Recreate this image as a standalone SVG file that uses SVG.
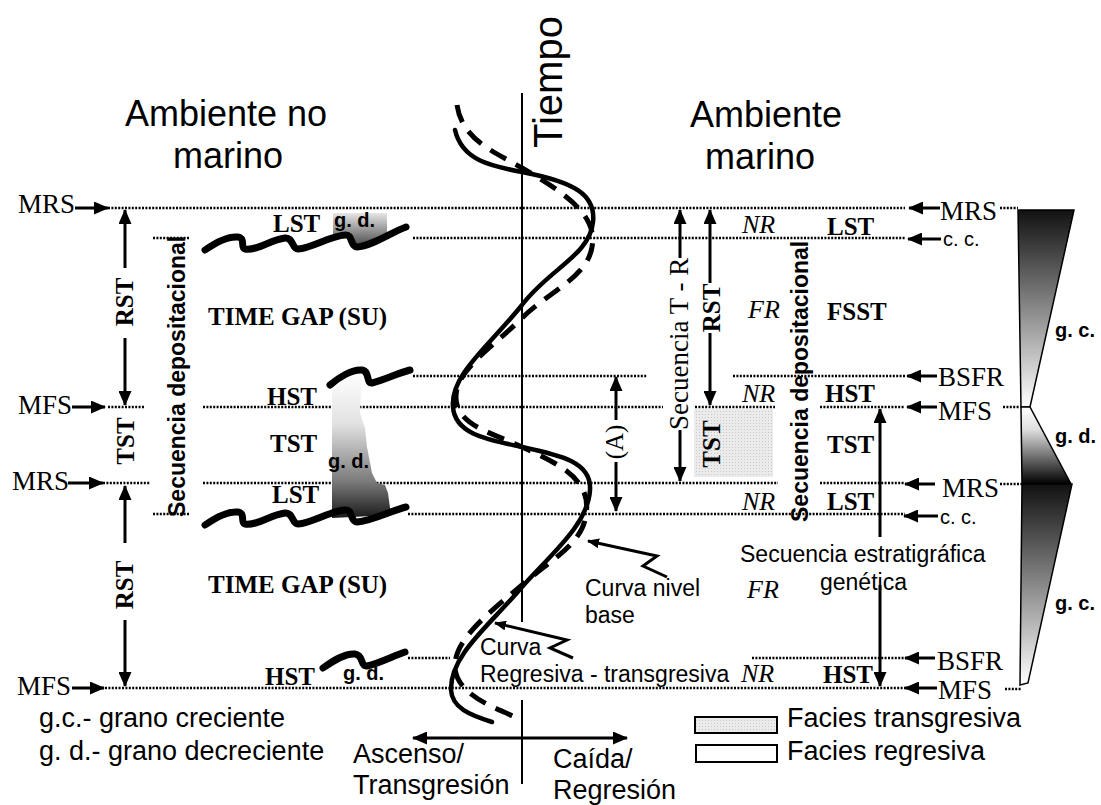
<svg xmlns="http://www.w3.org/2000/svg" width="1101" height="805" viewBox="0 0 1101 805">
<style>
.sans{font-family:"Liberation Sans",Arial,sans-serif;fill:#000}
.serif{font-family:"Liberation Serif","Times New Roman",serif;fill:#000}
.bs{font-family:"Liberation Serif","Times New Roman",serif;font-weight:bold;font-size:25px;fill:#000}
.it{font-family:"Liberation Serif","Times New Roman",serif;font-style:italic;font-size:26px;fill:#000}
.lab{font-family:"Liberation Serif","Times New Roman",serif;font-size:27px;fill:#000}
.gd{font-family:"Liberation Sans",Arial,sans-serif;font-weight:bold;font-size:20px;fill:#000}
.dot{stroke:#000;stroke-width:2.5;stroke-dasharray:2 1.4;fill:none}
.arr{stroke:#000;stroke-width:3;fill:none;marker-end:url(#ah)}
.darr{stroke:#000;stroke-width:3;fill:none;marker-end:url(#ah);marker-start:url(#ah)}
.wave{stroke:#000;stroke-width:7;fill:none;stroke-linecap:round;stroke-linejoin:round}
.squig{stroke:#000;stroke-width:3;fill:none;stroke-linejoin:miter;marker-end:url(#ahs)}
</style>
<defs>
<marker id="ah" markerUnits="userSpaceOnUse" markerWidth="15" markerHeight="13" refX="14" refY="6.5" orient="auto-start-reverse" viewBox="0 0 15 13"><path d="M0,0 L15,6.5 L0,13 z" fill="#000"/></marker>
<marker id="ahs" markerUnits="userSpaceOnUse" markerWidth="12" markerHeight="10" refX="11" refY="5" orient="auto" viewBox="0 0 12 10"><path d="M0,0 L12,5 L0,10 z" fill="#000"/></marker>
<pattern id="dots" width="3" height="3" patternUnits="userSpaceOnUse"><rect width="3" height="3" fill="#ebebeb"/><rect width="1" height="1" fill="#c8c8c8"/></pattern>
<linearGradient id="gTop" x1="0" y1="0" x2="0" y2="1"><stop offset="0" stop-color="#e6e6e6"/><stop offset="1" stop-color="#4a4a4a"/></linearGradient>
<linearGradient id="gMid" x1="0" y1="0" x2="0" y2="1"><stop offset="0" stop-color="#ffffff"/><stop offset="0.35" stop-color="#e2e2e2"/><stop offset="0.75" stop-color="#7a7a7a"/><stop offset="1" stop-color="#1a1a1a"/></linearGradient>
<linearGradient id="gDown" x1="0" y1="0" x2="0" y2="1"><stop offset="0" stop-color="#111"/><stop offset="0.5" stop-color="#888"/><stop offset="1" stop-color="#fff"/></linearGradient>
<linearGradient id="gUp" x1="0" y1="0" x2="0" y2="1"><stop offset="0" stop-color="#fff"/><stop offset="0.3" stop-color="#ddd"/><stop offset="1" stop-color="#000"/></linearGradient>
</defs>

<g id="dotted-lines">
<line class="dot" x1="108" y1="208" x2="905" y2="208"/>
<line class="dot" x1="153" y1="238" x2="190" y2="238"/>
<line class="dot" x1="413" y1="238" x2="905" y2="238"/>
<line class="dot" x1="413" y1="376" x2="647" y2="376"/>
<line class="dot" x1="733" y1="376" x2="905" y2="376"/>
<line class="dot" x1="108" y1="407" x2="145" y2="407"/>
<line class="dot" x1="203" y1="407" x2="663" y2="407"/>
<line class="dot" x1="695" y1="407" x2="775" y2="407"/>
<line class="dot" x1="820" y1="407" x2="905" y2="407"/>
<line class="dot" x1="103" y1="483" x2="150" y2="483"/>
<line class="dot" x1="203" y1="483" x2="778" y2="483"/>
<line class="dot" x1="820" y1="483" x2="905" y2="483"/>
<line class="dot" x1="153" y1="514" x2="190" y2="514"/>
<line class="dot" x1="408" y1="514" x2="905" y2="514"/>
<line class="dot" x1="408" y1="658" x2="450" y2="658"/>
<line class="dot" x1="752" y1="658" x2="905" y2="658"/>
<line class="dot" x1="105" y1="688" x2="905" y2="688"/>
<line class="dot" x1="1000" y1="208" x2="1018" y2="208"/>
<line class="dot" x1="1003" y1="407" x2="1020" y2="407"/>
<line class="dot" x1="1000" y1="484" x2="1022" y2="484"/>
<line class="dot" x1="1005" y1="689" x2="1021" y2="689"/>
</g>

<g id="titles">
<text class="sans" x="226" y="126" font-size="36" text-anchor="middle">Ambiente no</text>
<text class="sans" x="228" y="168" font-size="36" text-anchor="middle">marino</text>
<text class="sans" x="766" y="127" font-size="36" text-anchor="middle">Ambiente</text>
<text class="sans" x="760" y="169" font-size="36" text-anchor="middle">marino</text>
<text class="sans" font-size="40" transform="translate(562,148) rotate(-90)">Tiempo</text>
</g>

<g id="left-facies">
<path d="M333,213 L387,213 L387,237 L357,246 L350,236 L333,240 Z" fill="url(#gTop)"/>
<path d="M332,390 L345,379 L362,373 L360,413 L365,428 L367,447 L372,473 L377,483 L385,485 L388,493 L391,515 L332,518 Z" fill="url(#gMid)"/>
<path class="wave" d="M205,250 C215,243 228,236 238,237 C246,238 240,248 245,249 C257,251 270,240 285,238 C293,237 292,249 298,249 C312,248 330,236 345,235 C353,234 350,247 357,247 C372,246 390,233 406,227"/>
<path class="wave" d="M205,525 C215,518 228,511 238,512 C246,513 240,523 245,524 C257,526 270,515 285,513 C293,512 292,524 298,524 C312,523 330,511 345,510 C353,509 350,522 357,522 C372,521 390,511 406,507"/>
<path class="wave" d="M330,385 C338,378 352,369 362,370 C370,371 366,384 372,383 C385,380 398,373 410,370"/>
<path class="wave" d="M323,668 C333,661 345,653 355,654 C364,655 360,667 367,666 C380,663 393,656 405,652"/>
<text class="gd" x="334" y="227">g. d.</text>
<text class="gd" x="328" y="468">g. d.</text>
<text class="gd" x="343" y="680">g. d.</text>
<text class="bs" x="273" y="232">LST</text>
<text class="bs" x="267" y="405">HST</text>
<text class="bs" x="270" y="452">TST</text>
<text class="bs" x="272" y="503">LST</text>
<text class="bs" x="265" y="685">HST</text>
<text class="bs" x="208" y="325" font-size="27">TIME GAP (SU)</text>
<text class="bs" x="208" y="593" font-size="27">TIME GAP (SU)</text>
</g>

<g id="left-surfaces">
<text class="lab" x="18" y="213">MRS</text>
<text class="lab" x="18" y="414">MFS</text>
<text class="lab" x="12" y="490">MRS</text>
<text class="lab" x="17" y="695">MFS</text>
<text class="sans" font-size="23" font-weight="bold" transform="translate(185,517) rotate(-90)">Secuencia depositacional</text>
<text class="bs" font-size="26" text-anchor="middle" transform="translate(133,302) rotate(-90)">RST</text>
<text class="bs" font-size="26" text-anchor="middle" transform="translate(134,441) rotate(-90)">TST</text>
<text class="bs" font-size="26" text-anchor="middle" transform="translate(133,585) rotate(-90)">RST</text>
</g>

<g id="curves">
<line x1="522" y1="93" x2="522" y2="622" stroke="#000" stroke-width="2"/>
<line x1="522" y1="700" x2="522" y2="784" stroke="#000" stroke-width="2"/>
<path d="M455,130 C462,160 490,166 522,172 C575,182 596,195 593,222 C590,255 548,270 522,305 C490,345 450,375 453,407 C455,435 490,440 522,447 C560,455 592,462 590,490 C588,525 550,555 522,587 C490,625 450,655 451,690 C452,708 470,715 492,722" fill="none" stroke="#000" stroke-width="4.5" stroke-linecap="round"/>
<path d="M457,105 C462,140 495,152 522,168 C565,193 598,215 592,247 C587,278 548,292 522,318 C492,348 455,370 456,398 C457,425 490,432 522,447 C560,464 592,480 586,515 C582,545 550,560 522,585 C490,612 453,640 455,668 C457,695 495,708 522,720" fill="none" stroke="#000" stroke-width="5" stroke-dasharray="18 11"/>
<text class="sans" x="585" y="596" font-size="23">Curva nivel</text>
<text class="sans" x="585" y="623" font-size="23">base</text>
<text class="sans" x="480" y="655" font-size="23">Curva</text>
<text class="sans" x="480" y="682" font-size="23">Regresiva - transgresiva</text>
<text class="sans" x="353" y="763" font-size="27">Ascenso/</text>
<text class="sans" x="353" y="794" font-size="27">Transgresión</text>
<text class="sans" x="553" y="768" font-size="27">Caída/</text>
<text class="sans" x="553" y="799" font-size="27">Regresión</text>
<text class="serif" font-size="25" text-anchor="middle" transform="translate(623,442) rotate(-90)">(A)</text>
</g>

<g id="right-facies">
<rect x="694" y="409" width="79" height="68" fill="url(#dots)"/>
<text class="serif" font-size="27" transform="translate(688,430) rotate(-90)">Secuencia T - R</text>
<text class="bs" font-size="26" text-anchor="middle" transform="translate(720,308) rotate(-90)">RST</text>
<text class="bs" font-size="26" text-anchor="middle" transform="translate(720,444) rotate(-90)">TST</text>
<text class="sans" font-size="23" font-weight="bold" transform="translate(808,522) rotate(-90)">Secuencia depositacional</text>
<text class="it" x="742" y="233">NR</text>
<text class="it" x="748" y="318">FR</text>
<text class="it" x="742" y="402">NR</text>
<text class="it" x="742" y="510">NR</text>
<text class="it" x="747" y="598">FR</text>
<text class="it" x="741" y="682">NR</text>
<text class="bs" x="827" y="235">LST</text>
<text class="bs" x="827" y="320">FSST</text>
<text class="bs" x="825" y="402">HST</text>
<text class="bs" x="827" y="453">TST</text>
<text class="bs" x="827" y="510">LST</text>
<text class="bs" x="823" y="683">HST</text>
<text class="sans" x="740" y="562" font-size="23">Secuencia estratigráfica</text>
<text class="sans" x="820" y="590" font-size="23">genética</text>
</g>

<g id="right-surfaces">
<text class="lab" x="940" y="220">MRS</text>
<text class="sans" x="943" y="246" font-size="20">c. c.</text>
<text class="lab" x="938" y="386">BSFR</text>
<text class="lab" x="938" y="420">MFS</text>
<text class="lab" x="942" y="497">MRS</text>
<text class="sans" x="940" y="524" font-size="20">c. c.</text>
<text class="lab" x="937" y="670">BSFR</text>
<text class="lab" x="938" y="699">MFS</text>
</g>

<g id="grain-bars">
<polygon points="1018,210 1074,210 1030,407 1021,407" fill="url(#gDown)" stroke="#000" stroke-width="1.5"/>
<polygon points="1021,407 1030,407 1071,484 1022,484" fill="url(#gUp)" stroke="#000" stroke-width="1.5"/>
<polygon points="1022,484 1072,484 1028,683 1020,685" fill="url(#gDown)" stroke="#000" stroke-width="1.5"/>
<text class="gd" x="1055" y="337">g. c.</text>
<text class="gd" x="1055" y="443">g. d.</text>
<text class="gd" x="1055" y="610">g. c.</text>
</g>

<g id="legend">
<text class="sans" x="39" y="727" font-size="27">g.c.- grano creciente</text>
<text class="sans" x="39" y="760" font-size="27">g. d.- grano decreciente</text>
<rect x="695" y="717" width="82" height="16" fill="url(#dots)" stroke="#000" stroke-width="2"/>
<rect x="696" y="745" width="81" height="17" fill="#fff" stroke="#000" stroke-width="2"/>
<text class="sans" x="787" y="727" font-size="27">Facies transgresiva</text>
<text class="sans" x="787" y="760" font-size="27">Facies regresiva</text>
</g>

<g id="connectors">
<line class="arr" x1="75" y1="208" x2="108" y2="208"/>
<line class="arr" x1="72" y1="407" x2="105" y2="407"/>
<line class="arr" x1="68" y1="483" x2="103" y2="483"/>
<line class="arr" x1="72" y1="688" x2="104" y2="688"/>
<line class="arr" x1="125" y1="268" x2="125" y2="210"/>
<line class="arr" x1="125" y1="338" x2="125" y2="405"/>
<line class="arr" x1="125" y1="543" x2="125" y2="486"/>
<line class="arr" x1="125" y1="620" x2="125" y2="686"/>
<line class="arr" x1="680" y1="258" x2="680" y2="210"/>
<line class="arr" x1="680" y1="430" x2="680" y2="481"/>
<line class="arr" x1="710" y1="283" x2="710" y2="210"/>
<line class="arr" x1="710" y1="333" x2="710" y2="405"/>
<line class="arr" x1="616" y1="420" x2="616" y2="377"/>
<line class="arr" x1="616" y1="462" x2="616" y2="511"/>
<line class="arr" x1="880" y1="537" x2="880" y2="409"/>
<line class="arr" x1="880" y1="585" x2="880" y2="686"/>
<line class="arr" x1="940" y1="208" x2="909" y2="208"/>
<line class="arr" x1="941" y1="239" x2="908" y2="239"/>
<line class="arr" x1="937" y1="376" x2="907" y2="376"/>
<line class="arr" x1="937" y1="407" x2="907" y2="407"/>
<line class="arr" x1="935" y1="484" x2="905" y2="484"/>
<line class="arr" x1="938" y1="516" x2="904" y2="516"/>
<line class="arr" x1="935" y1="658" x2="905" y2="658"/>
<line class="arr" x1="937" y1="688" x2="905" y2="688"/>
<line class="darr" x1="413" y1="738" x2="627" y2="738"/>
<path class="squig" d="M667,577 L643,566 L657,556 L588,541"/>
<path class="squig" d="M573,658 L550,648 L567,640 L495,623"/>
</g>
</svg>
